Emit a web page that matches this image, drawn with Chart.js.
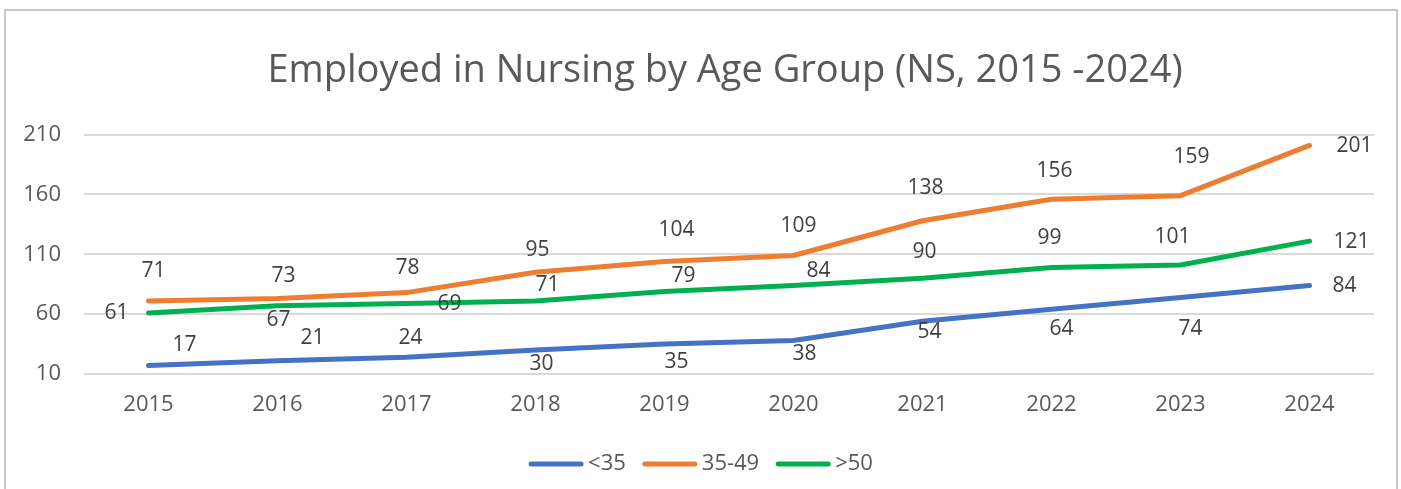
<!DOCTYPE html>
<html>
<head>
<meta charset="utf-8">
<title>Employed in Nursing by Age Group</title>
<script src="https://cdn.jsdelivr.net/npm/chart.js@4.4.1/dist/chart.umd.min.js"></script>
<style>
    html, body { margin: 0; padding: 0; background: #ffffff; }
    .frame {
        position: absolute; left: 4px; top: 9px;
        width: 1390px; height: 500px;
        border: 2px solid #c9c9c9;
    }
    .holder { position: absolute; left: 0; top: 0; width: 1401px; height: 489px; }
</style>
</head>
<body>
<div class="frame"></div>
<div class="holder"><canvas id="lineChart"></canvas></div>
<script>
    "use strict";

    var years = [ "2015", "2016", "2017", "2018", "2019", "2020", "2021", "2022", "2023", "2024" ];
    var seriesNames = [ "<35", "35-49", ">50" ];
    var under35 = [ 17, 21, 24, 30, 35, 38, 54, 64, 74, 84 ];
    var from35to49 = [ 71, 73, 78, 95, 104, 109, 138, 156, 159, 201 ];
    var over50 = [ 61, 67, 69, 71, 79, 84, 90, 99, 101, 121 ];
    var yTicks = [ 10, 60, 110, 160, 210 ];

    // where each data label sits, relative to its point (dx, dy in px)
    var labelShift = [
        [ [36,-21], [35,-23], [4,-19], [6,14], [12,18], [11,14], [7,11], [10,20], [10,32], [35,1] ],
        [ [5,-30], [6,-23], [1,-25], [2,-22], [12,-31], [5,-29], [3,-33], [3,-28], [11,-39], [45,1] ],
        [ [-32,0], [1,14], [43,1], [12,-16], [19,-15], [25,-14], [2,-26], [-2,-29], [-8,-28], [42,1] ]
    ];

    var colors = [ "#4472c4", "#ed7d31", "#00b050" ];
    var fontFamily = "'Open Sans', 'Noto Sans', sans-serif";

    // the title is centred a bit right of the canvas middle
    var titleShift = {
        id: "titleShift",
        afterLayout: function ( chart ) {
            if ( chart.titleBlock ) chart.titleBlock.left += 76;
        }
    };

    //value labels
    var valueLabels = {
        id: "valueLabels",
        afterDatasetsDraw: function ( chart ) {
            var ctx = chart.ctx;
            ctx.save();
            ctx.font = "21px " + fontFamily;
            ctx.fillStyle = "#404040";
            ctx.textAlign = "center";
            ctx.textBaseline = "middle";
            chart.data.datasets.forEach( function ( ds, i ) {
                var meta = chart.getDatasetMeta( i );
                meta.data.forEach( function ( pt, j ) {
                    var s = labelShift[ i ][ j ];
                    ctx.fillText( ds.data[ j ], pt.x + s[ 0 ], pt.y + s[ 1 ] );
                } );
            } );
            ctx.restore();
        }
    };

    //legend at the bottom
    var bottomLegend = {
        id: "bottomLegend",
        afterDraw: function ( chart ) {
            var ctx = chart.ctx;
            var lineLen = 56, gapText = 4, gapItem = 16, y = 464;
            ctx.save();
            ctx.font = "22px " + fontFamily;
            ctx.textBaseline = "middle";
            var total = 0;
            var widths = chart.data.datasets.map( function ( ds ) {
                var w = ctx.measureText( ds.label ).width;
                total += lineLen + gapText + w;
                return w;
            } );
            total += gapItem * ( widths.length - 1 );
            var x = chart.width / 2 - total / 2;
            chart.data.datasets.forEach( function ( ds, i ) {
                ctx.strokeStyle = ds.borderColor;
                ctx.lineWidth = 5;
                ctx.lineCap = "round";
                ctx.beginPath();
                ctx.moveTo( x + 3, y );
                ctx.lineTo( x + lineLen - 3, y );
                ctx.stroke();
                ctx.fillStyle = "#595959";
                ctx.fillText( ds.label, x + lineLen + gapText, y );
                x += lineLen + gapText + widths[ i ] + gapItem;
            } );
            ctx.restore();
        }
    };

    var seriesData = [ under35, from35to49, over50 ];

    var ctx = document.getElementById( "lineChart" );
    var myChart = new Chart( ctx, {
        type: "line",
        data: {
            labels: years,
            datasets: seriesData.map( function ( values, i ) {
                return {
                    label: seriesNames[ i ],
                    data: values,
                    borderColor: colors[ i ],
                    backgroundColor: colors[ i ],
                    borderWidth: 5,
                    borderCapStyle: "round",
                    borderJoinStyle: "round",
                    pointRadius: 0,
                    tension: 0
                };
            } )
        },
        options: {
            responsive: true,
            maintainAspectRatio: false,
            animation: false,
            layout: { padding: { left: 0, right: 27, top: 0, bottom: 0 } },
            plugins: {
                legend: { display: false },
                tooltip: { enabled: false },
                title: {
                    display: true,
                    text: "Employed in Nursing by Age Group (NS, 2015 -2024)",
                    color: "#595959",
                    font: { family: fontFamily, size: 38, weight: "normal", lineHeight: 1.2 },
                    padding: { top: 48, bottom: 41 }
                }
            },
            scales: {
                x: {
                    offset: true,
                    grid: { display: false, drawTicks: false },
                    border: { display: false },
                    ticks: {
                        color: "#595959",
                        padding: 18,
                        maxRotation: 0,
                        font: { family: fontFamily, size: 22 }
                    },
                    afterFit: function ( scale ) { scale.height = 115; }
                },
                y: {
                    min: yTicks[ 0 ],
                    max: yTicks[ yTicks.length - 1 ],
                    afterBuildTicks: function ( scale ) {
                        scale.ticks = yTicks.map( function ( v ) { return { value: v }; } );
                    },
                    grid: { color: "#d9d9d9", lineWidth: 2, drawTicks: false },
                    border: { display: false },
                    ticks: {
                        color: "#595959",
                        padding: 23,
                        font: { family: fontFamily, size: 22 }
                    },
                    afterFit: function ( scale ) { scale.width = 84; }
                }
            }
        },
        plugins: [ titleShift, valueLabels, bottomLegend ]
    } );
</script>
</body>
</html>
